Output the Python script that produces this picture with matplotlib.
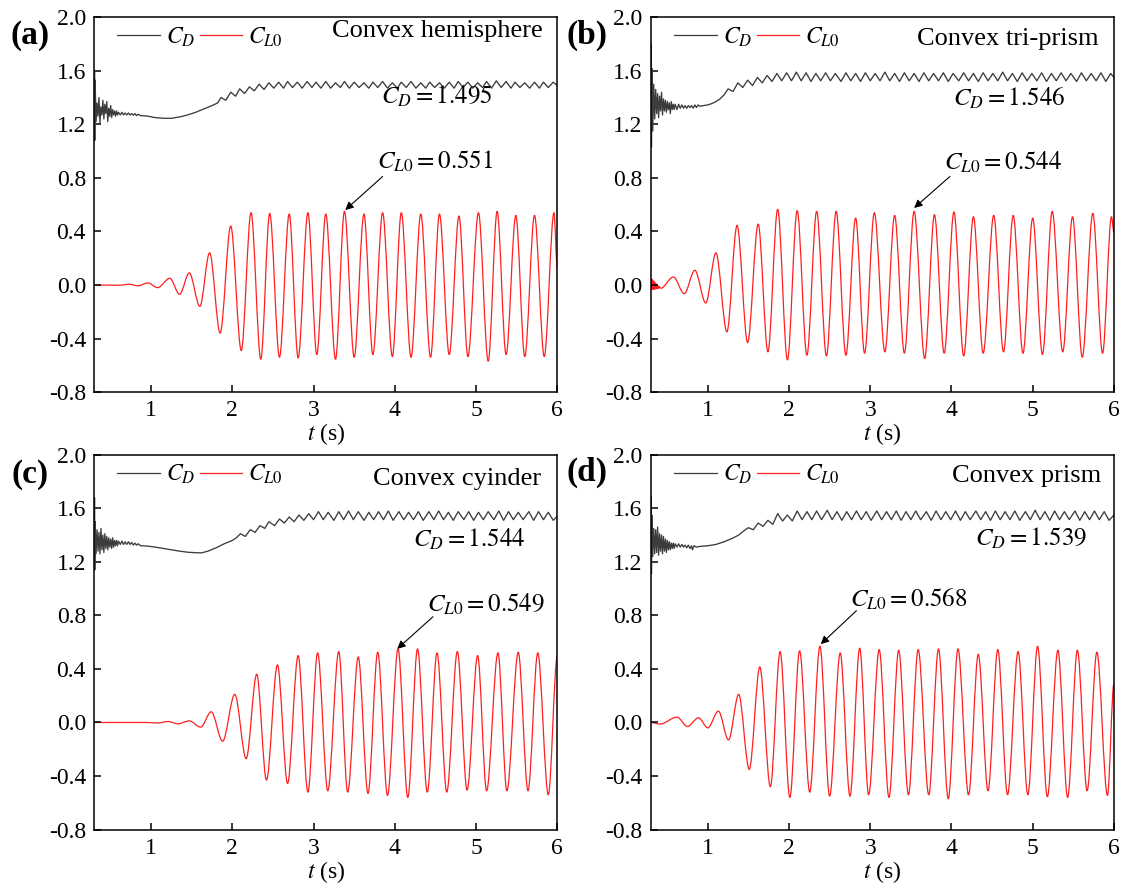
import numpy as np
import matplotlib
matplotlib.use('Agg')
import matplotlib.pyplot as plt
from matplotlib.path import Path
from matplotlib.patches import PathPatch
from matplotlib.lines import Line2D

plt.rcParams['font.family'] = 'serif'
plt.rcParams['font.serif'] = ['Liberation Serif', 'DejaVu Serif']
plt.rcParams['mathtext.fontset'] = 'stix'
plt.rcParams['axes.unicode_minus'] = False

# lift coefficient C_L0: extrema (t, value)
cl_a = np.array([
    [0.30, 0.0], [0.60, -0.002], [0.73, 0.005], [0.84, -0.006], [0.96, 0.015], [1.08, -0.02],
    [1.23, 0.05], [1.35, -0.07], [1.47, 0.09], [1.60, -0.16], [1.72, 0.24], [1.85, -0.36],
    [1.98, 0.44], [2.11, -0.49], [2.23, 0.54], [2.35, -0.555], [2.46, 0.535], [2.58, -0.54],
    [2.70, 0.53], [2.81, -0.545], [2.93, 0.54], [3.04, -0.52], [3.15, 0.53], [3.27, -0.555],
    [3.38, 0.55], [3.50, -0.54], [3.62, 0.53], [3.73, -0.52], [3.85, 0.54], [3.97, -0.535],
    [4.08, 0.54], [4.20, -0.54], [4.32, 0.53], [4.44, -0.54], [4.55, 0.53], [4.67, -0.52],
    [4.79, 0.515], [4.90, -0.535], [5.03, 0.54], [5.15, -0.57], [5.26, 0.55], [5.37, -0.52],
    [5.49, 0.52], [5.60, -0.535], [5.72, 0.52], [5.84, -0.535], [5.96, 0.54], [6.00, 0.13]])

cl_b = np.array([
    [0.300, 0.0], [0.303, 0.05], [0.307, -0.035], [0.312, 0.045], [0.317, -0.035], [0.322, 0.035],
    [0.328, -0.035], [0.334, 0.03], [0.340, -0.033], [0.347, 0.02], [0.354, -0.032], [0.362, 0.01],
    [0.370, -0.03], [0.380, 0.0], [0.39, -0.028], [0.40, -0.01], [0.42, -0.025],
    [0.576, 0.06], [0.71, -0.065], [0.84, 0.11], [0.975, -0.135], [1.10, 0.24], [1.235, -0.35],
    [1.36, 0.445], [1.49, -0.43], [1.62, 0.455], [1.74, -0.50], [1.86, 0.565], [1.98, -0.56],
    [2.10, 0.555], [2.22, -0.525], [2.34, 0.55], [2.46, -0.53], [2.58, 0.55], [2.70, -0.525],
    [2.82, 0.50], [2.93, -0.51], [3.05, 0.54], [3.18, -0.50], [3.30, 0.52], [3.42, -0.51],
    [3.54, 0.55], [3.67, -0.55], [3.79, 0.525], [3.91, -0.51], [4.03, 0.545], [4.15, -0.53],
    [4.27, 0.51], [4.39, -0.51], [4.52, 0.52], [4.64, -0.50], [4.76, 0.52], [4.88, -0.51],
    [5.00, 0.50], [5.12, -0.52], [5.24, 0.55], [5.37, -0.50], [5.49, 0.51], [5.61, -0.54],
    [5.74, 0.535], [5.86, -0.51], [5.97, 0.51], [6.00, 0.39]])

cl_c = np.array([
    [0.30, 0.0], [0.95, 0.0], [1.08, -0.004], [1.21, 0.0075], [1.33, -0.01], [1.47, 0.012],
    [1.61, -0.035], [1.74, 0.08], [1.88, -0.14], [2.03, 0.21], [2.17, -0.27], [2.30, 0.36],
    [2.42, -0.43], [2.555, 0.43], [2.68, -0.455], [2.81, 0.50], [2.93, -0.52], [3.05, 0.52],
    [3.175, -0.51], [3.31, 0.53], [3.42, -0.52], [3.55, 0.49], [3.67, -0.53], [3.79, 0.525],
    [3.91, -0.545], [4.04, 0.55], [4.16, -0.56], [4.28, 0.55], [4.40, -0.52], [4.52, 0.52],
    [4.64, -0.52], [4.77, 0.53], [4.89, -0.505], [5.02, 0.50], [5.13, -0.51], [5.27, 0.52],
    [5.38, -0.51], [5.52, 0.525], [5.64, -0.51], [5.76, 0.52], [5.89, -0.54], [6.00, 0.49]])

cl_d = np.array([
    [0.30, 0.0], [0.41, -0.012], [0.62, 0.04], [0.75, -0.03], [0.885, 0.035], [1.0, -0.04],
    [1.13, 0.085], [1.255, -0.13], [1.38, 0.21], [1.51, -0.35], [1.64, 0.415], [1.77, -0.48],
    [1.89, 0.53], [2.01, -0.56], [2.13, 0.535], [2.255, -0.52], [2.38, 0.57], [2.50, -0.55],
    [2.63, 0.52], [2.75, -0.55], [2.87, 0.555], [2.98, -0.54], [3.11, 0.545], [3.23, -0.56],
    [3.35, 0.54], [3.47, -0.54], [3.59, 0.545], [3.72, -0.54], [3.84, 0.55], [3.96, -0.57],
    [4.08, 0.55], [4.21, -0.54], [4.33, 0.51], [4.45, -0.51], [4.57, 0.545], [4.69, -0.54],
    [4.82, 0.53], [4.94, -0.54], [5.06, 0.57], [5.18, -0.555], [5.31, 0.54], [5.43, -0.56],
    [5.55, 0.54], [5.67, -0.51], [5.79, 0.525], [5.92, -0.545], [6.00, 0.29]])

# drag coefficient C_D: points (t, value)
cd_a = np.array([
    [0.300, 1.30], [0.303, 1.60], [0.306, 1.08], [0.31, 1.53], [0.322, 1.22], [0.334, 1.36],
    [0.346, 1.26], [0.358, 1.40], [0.37, 1.21], [0.382, 1.33], [0.394, 1.27], [0.406, 1.38],
    [0.418, 1.24], [0.43, 1.35], [0.442, 1.28], [0.454, 1.37], [0.466, 1.22], [0.478, 1.32],
    [0.49, 1.26], [0.502, 1.34], [0.514, 1.25], [0.526, 1.31], [0.538, 1.27], [0.55, 1.30],
    [0.562, 1.26], [0.574, 1.30], [0.586, 1.27], [0.598, 1.29],
    [0.62, 1.27], [0.64, 1.29], [0.66, 1.27], [0.68, 1.285],
    [0.70, 1.27], [0.72, 1.285], [0.74, 1.27], [0.76, 1.28], [0.78, 1.268], [0.80, 1.28],
    [0.82, 1.265], [0.84, 1.275], [0.87, 1.265], [0.95, 1.262], [1.05, 1.25], [1.15, 1.245],
    [1.25, 1.245], [1.35, 1.255], [1.45, 1.27], [1.55, 1.29], [1.65, 1.315], [1.75, 1.34],
    [1.82, 1.36], [1.86, 1.40], [1.92, 1.38], [1.98, 1.44], [2.04, 1.41], [2.09, 1.465],
    [2.15, 1.43], [2.21, 1.48], [2.27, 1.45], [2.33, 1.50], [2.39, 1.46], [2.45, 1.51],
    [2.51, 1.47], [2.57, 1.515], [2.63, 1.47], [2.68, 1.52], [2.74, 1.475], [2.80, 1.515],
    [2.86, 1.47], [2.92, 1.52], [2.98, 1.475], [3.03, 1.515], [3.09, 1.47], [3.15, 1.52],
    [3.21, 1.47], [3.27, 1.51], [3.33, 1.475], [3.38, 1.52], [3.44, 1.47], [3.50, 1.515],
    [3.56, 1.475], [3.62, 1.51], [3.68, 1.47], [3.73, 1.515], [3.79, 1.475], [3.85, 1.52],
    [3.91, 1.47], [3.97, 1.51], [4.03, 1.47], [4.08, 1.515], [4.14, 1.475], [4.20, 1.52],
    [4.26, 1.47], [4.32, 1.51], [4.38, 1.47], [4.43, 1.515], [4.49, 1.475], [4.55, 1.51],
    [4.61, 1.47], [4.67, 1.515], [4.73, 1.47], [4.78, 1.52], [4.84, 1.475], [4.90, 1.515],
    [4.96, 1.47], [5.02, 1.51], [5.08, 1.475], [5.13, 1.52], [5.19, 1.47], [5.25, 1.525],
    [5.31, 1.475], [5.37, 1.52], [5.43, 1.47], [5.48, 1.515], [5.54, 1.475], [5.60, 1.51],
    [5.66, 1.47], [5.72, 1.515], [5.78, 1.47], [5.83, 1.515], [5.89, 1.475], [5.95, 1.515],
    [6.00, 1.49]])

cd_b = np.array([
    [0.300, 1.35], [0.303, 1.80], [0.306, 1.03], [0.31, 1.62], [0.322, 1.15], [0.334, 1.50],
    [0.346, 1.24], [0.358, 1.46], [0.37, 1.28], [0.382, 1.43], [0.394, 1.25], [0.406, 1.41],
    [0.418, 1.30], [0.43, 1.44], [0.442, 1.27], [0.454, 1.39], [0.466, 1.30], [0.478, 1.38],
    [0.49, 1.29], [0.502, 1.37], [0.514, 1.31], [0.526, 1.36], [0.538, 1.28], [0.55, 1.37],
    [0.562, 1.31], [0.574, 1.35], [0.586, 1.31], [0.598, 1.35],
    [0.62, 1.31], [0.64, 1.35],
    [0.66, 1.32], [0.68, 1.345], [0.70, 1.32], [0.72, 1.34], [0.74, 1.32], [0.76, 1.34],
    [0.78, 1.325], [0.80, 1.34], [0.82, 1.32], [0.84, 1.345], [0.86, 1.325], [0.88, 1.345],
    [0.90, 1.335], [0.95, 1.34], [1.00, 1.345], [1.05, 1.355], [1.10, 1.37], [1.15, 1.39],
    [1.20, 1.42], [1.25, 1.465], [1.31, 1.445], [1.37, 1.51], [1.43, 1.475], [1.49, 1.53],
    [1.55, 1.49], [1.61, 1.55], [1.67, 1.51], [1.73, 1.565], [1.79, 1.52], [1.85, 1.58],
    [1.91, 1.525], [1.97, 1.585], [2.03, 1.525], [2.09, 1.59], [2.15, 1.525], [2.21, 1.585],
    [2.27, 1.52], [2.33, 1.58], [2.39, 1.525], [2.45, 1.585], [2.51, 1.525], [2.57, 1.58],
    [2.64, 1.52], [2.70, 1.585], [2.76, 1.525], [2.82, 1.58], [2.88, 1.52], [2.94, 1.585],
    [3.00, 1.525], [3.06, 1.58], [3.12, 1.525], [3.18, 1.59], [3.24, 1.525], [3.30, 1.58],
    [3.36, 1.52], [3.42, 1.585], [3.48, 1.525], [3.54, 1.58], [3.60, 1.52], [3.66, 1.585],
    [3.72, 1.525], [3.78, 1.58], [3.84, 1.525], [3.90, 1.585], [3.96, 1.52], [4.02, 1.58],
    [4.09, 1.525], [4.15, 1.585], [4.21, 1.525], [4.27, 1.58], [4.33, 1.52], [4.39, 1.585],
    [4.45, 1.525], [4.51, 1.58], [4.57, 1.525], [4.63, 1.59], [4.69, 1.525], [4.75, 1.58],
    [4.81, 1.52], [4.87, 1.585], [4.93, 1.525], [4.99, 1.58], [5.05, 1.525], [5.11, 1.585],
    [5.17, 1.52], [5.23, 1.58], [5.29, 1.525], [5.35, 1.585], [5.41, 1.525], [5.47, 1.58],
    [5.54, 1.52], [5.60, 1.585], [5.66, 1.525], [5.72, 1.58], [5.78, 1.525], [5.84, 1.585],
    [5.90, 1.52], [5.96, 1.58], [6.00, 1.55]])

cd_c = np.array([
    [0.300, 1.35], [0.303, 1.68], [0.306, 1.14], [0.31, 1.50], [0.322, 1.26], [0.334, 1.44],
    [0.346, 1.28], [0.358, 1.42], [0.37, 1.26], [0.382, 1.45], [0.394, 1.29], [0.406, 1.40],
    [0.418, 1.27], [0.43, 1.41], [0.442, 1.30], [0.454, 1.39], [0.466, 1.29], [0.478, 1.38],
    [0.49, 1.31], [0.502, 1.37], [0.514, 1.30], [0.526, 1.38], [0.538, 1.31], [0.55, 1.36],
    [0.562, 1.32], [0.574, 1.36], [0.586, 1.32], [0.598, 1.355],
    [0.62, 1.33], [0.64, 1.355], [0.66, 1.33], [0.68, 1.35],
    [0.70, 1.33], [0.72, 1.35], [0.74, 1.33], [0.76, 1.345], [0.78, 1.325], [0.80, 1.34],
    [0.82, 1.325], [0.84, 1.335], [0.87, 1.32], [0.95, 1.318], [1.05, 1.31], [1.15, 1.30],
    [1.25, 1.29], [1.35, 1.28], [1.45, 1.272], [1.55, 1.268], [1.62, 1.267], [1.70, 1.28],
    [1.80, 1.305], [1.90, 1.335], [2.00, 1.36], [2.05, 1.38], [2.10, 1.41], [2.16, 1.39],
    [2.22, 1.44], [2.28, 1.42], [2.34, 1.47], [2.40, 1.45], [2.45, 1.50], [2.52, 1.47],
    [2.58, 1.52], [2.64, 1.49], [2.70, 1.535], [2.76, 1.50], [2.82, 1.55], [2.88, 1.51],
    [2.94, 1.56], [3.00, 1.515], [3.06, 1.575], [3.12, 1.515], [3.18, 1.57], [3.25, 1.51],
    [3.31, 1.575], [3.37, 1.515], [3.43, 1.58], [3.49, 1.515], [3.55, 1.575], [3.62, 1.51],
    [3.68, 1.57], [3.74, 1.515], [3.80, 1.575], [3.86, 1.515], [3.92, 1.58], [3.98, 1.51],
    [4.05, 1.575], [4.11, 1.515], [4.17, 1.57], [4.23, 1.515], [4.29, 1.575], [4.35, 1.51],
    [4.42, 1.575], [4.48, 1.515], [4.54, 1.58], [4.60, 1.515], [4.66, 1.57], [4.72, 1.51],
    [4.78, 1.575], [4.85, 1.515], [4.91, 1.575], [4.97, 1.51], [5.03, 1.57], [5.09, 1.515],
    [5.15, 1.575], [5.22, 1.515], [5.28, 1.58], [5.34, 1.51], [5.40, 1.575], [5.46, 1.515],
    [5.52, 1.57], [5.58, 1.515], [5.65, 1.575], [5.71, 1.51], [5.77, 1.575], [5.83, 1.515],
    [5.89, 1.57], [5.95, 1.51], [6.00, 1.54]])

cd_d = np.array([
    [0.300, 1.33], [0.303, 1.69], [0.306, 1.11], [0.31, 1.55], [0.322, 1.24], [0.334, 1.45],
    [0.346, 1.26], [0.358, 1.44], [0.37, 1.27], [0.382, 1.46], [0.394, 1.25], [0.406, 1.41],
    [0.418, 1.28], [0.43, 1.40], [0.442, 1.26], [0.454, 1.39], [0.466, 1.28], [0.478, 1.37],
    [0.49, 1.27], [0.502, 1.36], [0.514, 1.29], [0.526, 1.35], [0.538, 1.29], [0.55, 1.34],
    [0.562, 1.30], [0.574, 1.34], [0.586, 1.30], [0.598, 1.335],
    [0.62, 1.31], [0.64, 1.335], [0.66, 1.31], [0.68, 1.33],
    [0.70, 1.31], [0.72, 1.325], [0.74, 1.305], [0.76, 1.325], [0.78, 1.30], [0.80, 1.32],
    [0.81, 1.29], [0.83, 1.32], [0.86, 1.31], [0.90, 1.315], [0.95, 1.318], [1.00, 1.32],
    [1.10, 1.33], [1.20, 1.35], [1.30, 1.375], [1.38, 1.40], [1.44, 1.43], [1.50, 1.455],
    [1.56, 1.44], [1.62, 1.49], [1.68, 1.465], [1.74, 1.51], [1.80, 1.48], [1.86, 1.56],
    [1.92, 1.505], [1.98, 1.55], [2.04, 1.505], [2.10, 1.58], [2.16, 1.515], [2.22, 1.575],
    [2.28, 1.515], [2.34, 1.58], [2.40, 1.515], [2.47, 1.585], [2.53, 1.515], [2.59, 1.575],
    [2.65, 1.51], [2.71, 1.575], [2.77, 1.515], [2.83, 1.58], [2.89, 1.515], [2.95, 1.575],
    [3.01, 1.51], [3.08, 1.58], [3.14, 1.515], [3.20, 1.575], [3.26, 1.515], [3.32, 1.58],
    [3.38, 1.51], [3.44, 1.575], [3.50, 1.515], [3.56, 1.58], [3.62, 1.515], [3.69, 1.575],
    [3.75, 1.51], [3.81, 1.58], [3.87, 1.515], [3.93, 1.575], [3.99, 1.515], [4.05, 1.58],
    [4.11, 1.51], [4.17, 1.575], [4.23, 1.515], [4.30, 1.58], [4.36, 1.515], [4.42, 1.575],
    [4.48, 1.51], [4.54, 1.58], [4.60, 1.515], [4.66, 1.575], [4.72, 1.515], [4.78, 1.58],
    [4.84, 1.51], [4.91, 1.575], [4.97, 1.515], [5.03, 1.585], [5.09, 1.515], [5.15, 1.575],
    [5.21, 1.51], [5.27, 1.58], [5.33, 1.515], [5.39, 1.575], [5.45, 1.515], [5.52, 1.58],
    [5.58, 1.51], [5.64, 1.575], [5.70, 1.515], [5.76, 1.58], [5.82, 1.515], [5.88, 1.575],
    [5.94, 1.51], [6.00, 1.55]])

panel_tags = ['(a)', '(b)', '(c)', '(d)']
shapes = ['Convex hemisphere', 'Convex tri-prism', 'Convex cyinder', 'Convex prism']
cd_means = ['1.495', '1.546', '1.544', '1.539']
cl_peaks = ['0.551', '0.544', '0.549', '0.568']
cd_series = [cd_a, cd_b, cd_c, cd_d]
cl_series = [cl_a, cl_b, cl_c, cl_d]

# layout (figure fractions) and text placement per panel
rects = [[0.0841, 0.556, 0.413, 0.4245], [0.5807, 0.556, 0.413, 0.4245],
         [0.0841, 0.0605, 0.413, 0.4245], [0.5807, 0.0605, 0.413, 0.4245]]
tag_xy = [(0.027, 0.960), (0.524, 0.960), (0.027, 0.463), (0.524, 0.465)]
title_xy = [(0.968, 0.947), (0.968, 0.925), (0.965, 0.920), (0.973, 0.928)]
cd_text_xy = [(3.83, 1.352), (4.02, 1.338), (4.23, 1.316), (4.29, 1.324)]
cl_text_xy = [(3.785, 0.87), (3.91, 0.86), (4.40, 0.83), (2.745, 0.862)]
arrow_tail = [(3.85, 0.81), (3.98, 0.81), (4.47, 0.79), (2.83, 0.835)]
arrow_tip = [(3.39, 0.56), (3.54, 0.575), (4.03, 0.55), (2.39, 0.585)]

gray = '#3c3c3c'
red = '#ff1f1f'


def smooth_path(pts):
    # cubic segments with flat tangents at each extremum
    verts = [tuple(pts[0])]
    codes = [Path.MOVETO]
    for (t0, v0), (t1, v1) in zip(pts[:-1], pts[1:]):
        dt = (t1 - t0) / 3.0
        verts += [(t0 + dt, v0), (t1 - dt, v1), (t1, v1)]
        codes += [Path.CURVE4] * 3
    return Path(verts, codes)


fig = plt.figure(figsize=(11.21, 8.83), dpi=100)

for i in range(4):
    ax = fig.add_axes(rects[i])
    cd = cd_series[i]
    ax.plot(cd[:, 0], cd[:, 1], color=gray, lw=0.95)
    ax.add_patch(PathPatch(smooth_path(cl_series[i]), fill=False, edgecolor=red, lw=0.9))

    ax.set_xlim(0.3, 6)
    ax.set_ylim(-0.8, 2.0)
    ax.set_xticks([1, 2, 3, 4, 5, 6])
    ax.set_yticks(np.arange(-0.8, 2.01, 0.4))
    ax.set_yticklabels(['%.1f' % v for v in np.arange(-0.8, 2.01, 0.4)])
    ax.tick_params(direction='in', length=5, width=1.1, labelsize=17, pad=6,
                   top=False, right=False)
    for sp in ax.spines.values():
        sp.set_linewidth(1.1)
    ax.set_xlabel(r'$\mathit{t}$ (s)', fontsize=17, labelpad=0)

    handles = [Line2D([], [], color=gray, lw=0.9), Line2D([], [], color=red, lw=0.9)]
    ax.legend(handles, [r'$C_D$', r'$C_{L\mathit{0}}$'], ncol=2, frameon=False,
              loc='center left', bbox_to_anchor=(0.05, 0.947), borderaxespad=0,
              borderpad=0, fontsize=17, handlelength=1.8, handletextpad=0.25,
              columnspacing=0.2)

    ax.text(title_xy[i][0], title_xy[i][1], shapes[i], transform=ax.transAxes,
            ha='right', va='baseline', fontsize=19)
    ax.text(cd_text_xy[i][0], cd_text_xy[i][1], r'$C_D = ' + cd_means[i] + '$',
            ha='left', va='baseline', fontsize=18)
    ax.text(cl_text_xy[i][0], cl_text_xy[i][1], r'$C_{L\mathit{0}} = ' + cl_peaks[i] + '$',
            ha='left', va='baseline', fontsize=18)
    ax.annotate('', xy=arrow_tip[i], xytext=arrow_tail[i],
                arrowprops=dict(arrowstyle='-|>', color='black', lw=0.8,
                                mutation_scale=12, shrinkA=0, shrinkB=0))

    fig.text(tag_xy[i][0], tag_xy[i][1], panel_tags[i], fontsize=24,
             fontweight='bold', ha='center', va='center')

fig.savefig('out.png', dpi=100)
